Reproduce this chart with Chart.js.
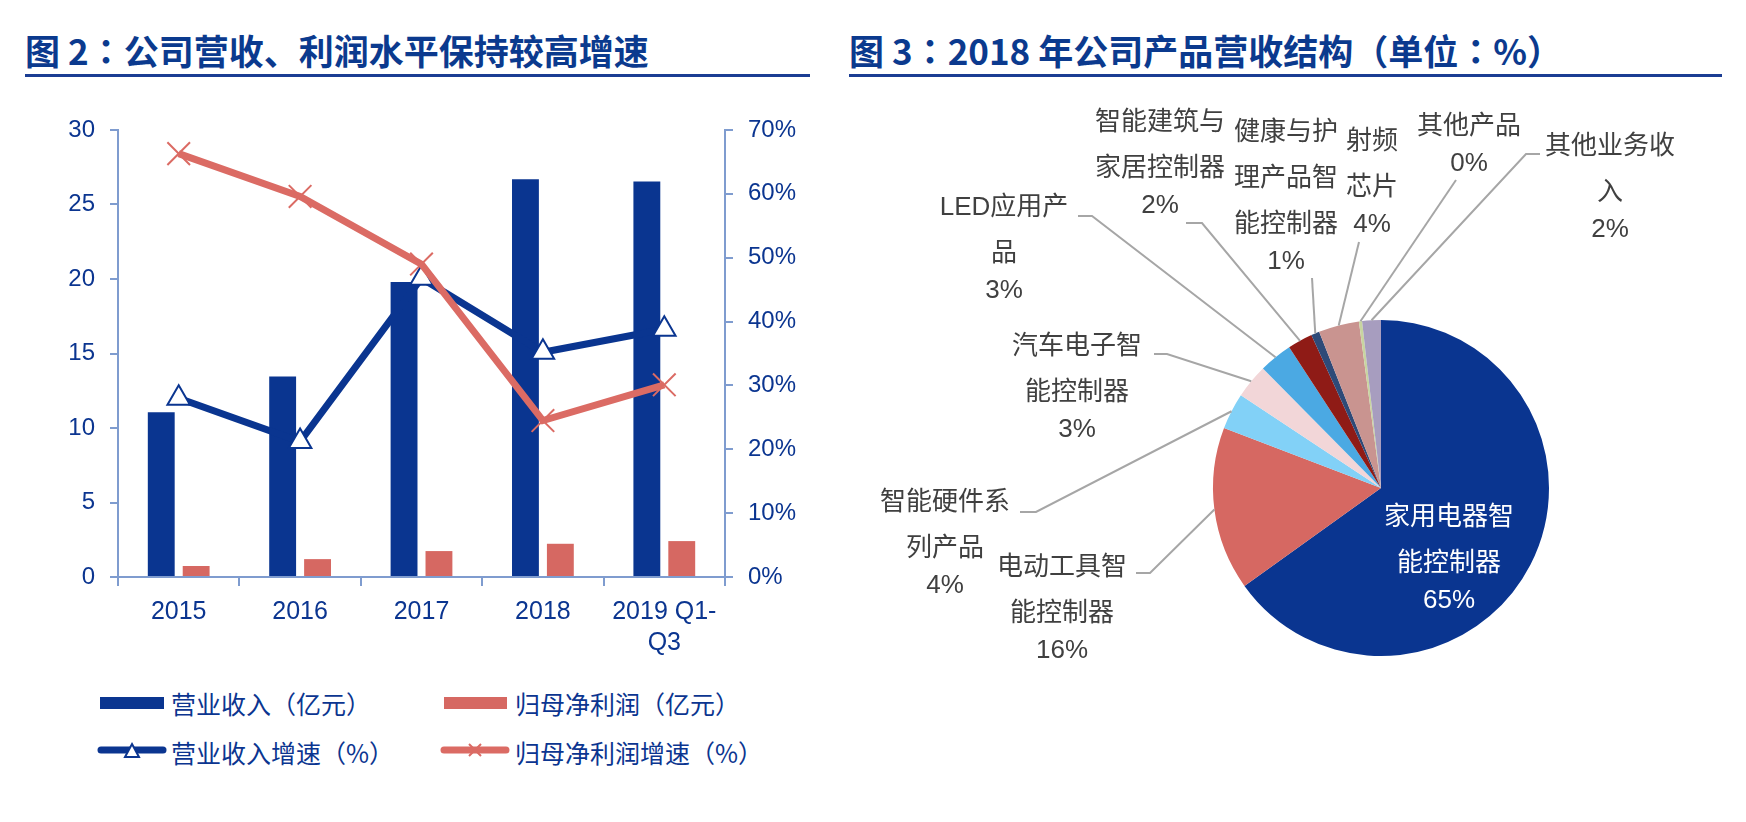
<!DOCTYPE html>
<html>
<head>
<meta charset="utf-8">
<script src="https://cdn.jsdelivr.net/npm/chart.js@4.4.1/dist/chart.umd.min.js"></script>
<style>
  body { margin: 0; background: #fff; width: 1746px; height: 822px; position: relative; overflow: hidden;
         font-family: 'Liberation Sans', 'Noto Sans CJK SC', sans-serif; }
  .title { position: absolute; top: 28px; height: 44px; line-height: 44px; font-size: 35px; font-weight: 700;
           color: #0B3A8E; font-family: 'Noto Sans CJK SC', sans-serif; white-space: nowrap; }
  .rule { position: absolute; top: 74px; height: 3px; background: #1B3D93; }
  canvas { position: absolute; }
  .lg { position: absolute; font-size: 25px; line-height: 30px; color: #0B3590; white-space: nowrap;
        font-family: 'Noto Sans CJK SC', sans-serif; }
  .p { font-family: 'Noto Sans CJK TC', sans-serif; }
  .sw { position: absolute; }
</style>
</head>
<body>
<div class="title" style="left:25px">图 2<span class="p">：</span>公司营收、利润水平保持较高增速</div>
<div class="rule" style="left:25px; width:785px"></div>
<div class="title" style="left:849px">图 3<span class="p">：</span>2018 年公司产品营收结构<span class="p">（</span>单位<span class="p">：</span>%<span class="p">）</span></div>
<div class="rule" style="left:849px; width:873px"></div>

<canvas id="barLine" width="830" height="590" style="left:0; top:90px"></canvas>
<canvas id="pie" width="873" height="732" style="left:873px; top:90px"></canvas>

<!-- leyenda del gráfico izquierdo -->
<svg class="sw" style="left:100px; top:697px" width="64" height="12"><rect width="64" height="12" fill="#0A3590"/></svg>
<div class="lg" style="left:171px; top:688px">营业收入<span class="p">（</span>亿元<span class="p">）</span></div>
<svg class="sw" style="left:444px; top:697px" width="63" height="12"><rect width="63" height="12" fill="#D66862"/></svg>
<div class="lg" style="left:515px; top:688px">归母净利润<span class="p">（</span>亿元<span class="p">）</span></div>
<svg class="sw" style="left:96px; top:740px" width="72" height="22">
  <line x1="5" y1="10" x2="67" y2="10" stroke="#0B3590" stroke-width="7" stroke-linecap="round"/>
  <polygon points="36,4 43,17 29,17" fill="#fff" stroke="#0B3590" stroke-width="2"/>
</svg>
<div class="lg" style="left:171px; top:737px">营业收入增速<span class="p">（</span>%<span class="p">）</span></div>
<svg class="sw" style="left:439px; top:740px" width="72" height="22">
  <line x1="5" y1="10" x2="67" y2="10" stroke="#DB6B64" stroke-width="7" stroke-linecap="round"/>
  <path d="M30,4 L42,16 M42,4 L30,16" stroke="#DB6B64" stroke-width="2"/>
</svg>
<div class="lg" style="left:515px; top:737px">归母净利润增速<span class="p">（</span>%<span class="p">）</span></div>

<script>
// Datos del gráfico de barras y líneas
const years = ['2015', '2016', '2017', '2018', ['2019 Q1-', 'Q3']];
const revenue = [11.05, 13.45, 19.8, 26.7, 26.55];       // 营业收入（亿元）
const netProfit = [0.74, 1.2, 1.74, 2.23, 2.41];          // 归母净利润（亿元）
const revenueGrowth = [28.0, 21.2, 46.8, 35.2, 38.8];     // 营业收入增速（%）
const profitGrowth = [66.3, 59.6, 49.0, 24.5, 30.1];      // 归母净利润增速（%）

// Datos del gráfico de pastel (estructura de ingresos 2018)
const pieNames = ['家用电器智能控制器', '电动工具智能控制器', '智能硬件系列产品', '汽车电子智能控制器',
  'LED应用产品', '智能建筑与家居控制器', '健康与护理产品智能控制器', '射频芯片', '其他产品', '其他业务收入'];
const pieValues = [65.1, 15.7, 3.5, 3.3, 3.2, 2.4, 0.8, 3.9, 0.3, 1.8];
const pieColors = ['#0A3590', '#D66862', '#82D1F7', '#F2D6D8', '#4BA9E3', '#8F1B16', '#2E4A78', '#C99490', '#C8D5A0', '#A79DBF'];

const blue = '#0A3590';
const red = '#D66862';
const redLine = '#DB6B64';
const textBlue = '#0B3590';
const axisColor = '#7F9CCF';

Chart.defaults.font.family = "'Liberation Sans', 'Noto Sans CJK SC', sans-serif";

// Gráfico combinado barras + líneas
new Chart(document.getElementById('barLine'), {
  type: 'bar',
  data: {
    labels: years,
    datasets: [
      {
        type: 'line', label: '归母净利润增速（%）', data: profitGrowth, yAxisID: 'y1', order: 0,
        borderColor: redLine, borderWidth: 7, pointStyle: 'crossRot', pointRadius: 16,
        pointBorderColor: redLine, pointBorderWidth: 2, pointBackgroundColor: redLine, tension: 0,
      },
      {
        type: 'line', label: '营业收入增速（%）', data: revenueGrowth, yAxisID: 'y1', order: 1,
        borderColor: blue, borderWidth: 7, pointStyle: 'triangle', pointRadius: 13,
        pointBorderColor: blue, pointBorderWidth: 2, pointBackgroundColor: '#fff', tension: 0,
      },
      {
        label: '营业收入（亿元）', data: revenue, backgroundColor: blue, yAxisID: 'y', order: 2,
        categoryPercentage: 0.575, barPercentage: 0.77,
      },
      {
        label: '归母净利润（亿元）', data: netProfit, backgroundColor: red, yAxisID: 'y', order: 2,
        categoryPercentage: 0.575, barPercentage: 0.77,
      },
    ],
  },
  options: {
    responsive: false,
    animation: false,
    layout: { padding: { top: 40, left: 0, right: 0, bottom: 0 } },
    plugins: { legend: { display: false }, tooltip: { enabled: false } },
    scales: {
      x: {
        grid: { offset: true, drawOnChartArea: false, tickLength: 9, color: axisColor, lineWidth: 2 },
        border: { color: axisColor, width: 2 },
        ticks: { color: textBlue, font: { size: 25, lineHeight: 1.25 }, padding: 10, maxRotation: 0 },
        afterFit: (s) => { s.height = 103; },
      },
      y: {
        position: 'left', min: 0, max: 30,
        grid: { drawOnChartArea: false, tickLength: 8, color: axisColor, lineWidth: 2 },
        border: { color: axisColor, width: 2 },
        ticks: { stepSize: 5, color: textBlue, font: { size: 24 }, padding: 15 },
        afterFit: (s) => { s.width = 118; },
      },
      y1: {
        position: 'right', min: 0, max: 70,
        grid: { drawOnChartArea: false, tickLength: 8, color: axisColor, lineWidth: 2 },
        border: { color: axisColor, width: 2 },
        ticks: { stepSize: 10, color: textBlue, font: { size: 24 }, padding: 15, callback: (v) => v + '%' },
        afterFit: (s) => { s.width = 105; },
      },
    },
  },
});

// Posición de las etiquetas del pastel (coordenadas de página)
const PIE_LEFT = 873, PIE_TOP = 90;
const pieLayout = [
  { x: 1449, y: 518, wrap: 5, color: '#fff' },
  { x: 1062, y: 568, wrap: 5, lead: [[1136, 573], [1150, 573]] },
  { x: 945, y: 503, wrap: 5, lead: [[1020, 512], [1036, 512]] },
  { x: 1077, y: 347, wrap: 5, lead: [[1154, 354], [1167, 354]] },
  { x: 1004, y: 208, wrap: 6, lead: [[1078, 216], [1092, 216]] },
  { x: 1160, y: 123, wrap: 5, lead: [[1186, 223], [1202, 223]] },
  { x: 1286, y: 133, wrap: 4, lead: [[1312, 278]] },
  { x: 1372, y: 142, wrap: 2, lead: [[1359, 242]] },
  { x: 1469, y: 127, wrap: 4, lead: [[1456, 180]] },
  { x: 1610, y: 147, wrap: 5, lead: [[1540, 154], [1526, 154]] },
];

const pieLabels = {
  id: 'pieLabels',
  afterDatasetsDraw(chart) {
    const ctx = chart.ctx;
    const arcs = chart.getDatasetMeta(0).data;
    const total = pieValues.reduce((a, b) => a + b, 0);
    ctx.save();
    arcs.forEach((arc, i) => {
      const lay = pieLayout[i];
      const p = arc.getProps(['x', 'y', 'startAngle', 'endAngle', 'outerRadius'], true);
      const mid = (p.startAngle + p.endAngle) / 2;
      const ex = p.x + Math.cos(mid) * p.outerRadius;
      const ey = p.y + Math.sin(mid) * p.outerRadius;
      if (lay.lead) {
        ctx.strokeStyle = '#A6A6A6';
        ctx.lineWidth = 2;
        ctx.beginPath();
        lay.lead.forEach(([lx, ly], k) => {
          if (k === 0) ctx.moveTo(lx - PIE_LEFT, ly - PIE_TOP);
          else ctx.lineTo(lx - PIE_LEFT, ly - PIE_TOP);
        });
        ctx.lineTo(ex, ey);
        ctx.stroke();
      }
      const chars = Array.from(pieNames[i]);
      const lines = [];
      for (let k = 0; k < chars.length; k += lay.wrap) lines.push(chars.slice(k, k + lay.wrap).join(''));
      ctx.fillStyle = lay.color || '#404040';
      ctx.font = "26px 'Liberation Sans', 'Noto Sans CJK SC', sans-serif";
      ctx.textAlign = 'center';
      ctx.textBaseline = 'middle';
      let y = lay.y - PIE_TOP;
      lines.forEach((t) => {
        ctx.fillText(t, lay.x - PIE_LEFT, y);
        y += 46;
      });
      y -= 9;
      ctx.fillText(Math.round(pieValues[i] / total * 100) + '%', lay.x - PIE_LEFT, y);
    });
    ctx.restore();
  },
};

new Chart(document.getElementById('pie'), {
  type: 'pie',
  data: {
    labels: pieNames,
    datasets: [{ data: pieValues, backgroundColor: pieColors, borderWidth: 0 }],
  },
  options: {
    responsive: false,
    animation: false,
    layout: { padding: { left: 340, right: 197, top: 230, bottom: 166 } },
    plugins: { legend: { display: false }, tooltip: { enabled: false } },
  },
  plugins: [pieLabels],
});
</script>
</body>
</html>
